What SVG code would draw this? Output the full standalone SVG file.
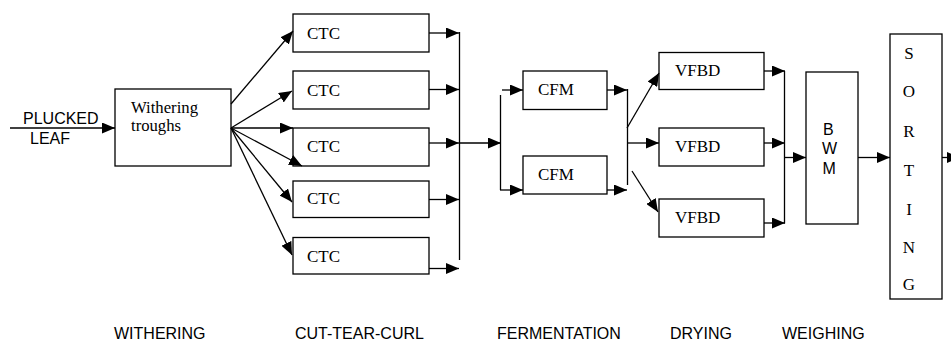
<svg xmlns="http://www.w3.org/2000/svg" width="951" height="341" viewBox="0 0 951 341">
<defs>
<marker id="ah" markerUnits="userSpaceOnUse" markerWidth="13" markerHeight="11" refX="13" refY="5.5" orient="auto">
<path d="M0,0 L13,5.5 L0,11 z" fill="#000"/>
</marker>
</defs>
<style>
.box{fill:#fff;stroke:#000;stroke-width:1.3}
.ln{fill:none;stroke:#000;stroke-width:1.3}
.ar{fill:none;stroke:#000;stroke-width:1.3;marker-end:url(#ah)}
.sf{font-family:"Liberation Serif","Times New Roman",serif;font-size:17px;fill:#000}
.sw{font-family:"Liberation Serif","Times New Roman",serif;font-size:16px;fill:#000}
.ss{font-family:"Liberation Sans",Arial,sans-serif;font-size:16px;fill:#000}
</style>
<rect width="951" height="341" fill="#fff"/>

<g id="withering">
<rect class="box" x="115" y="89" width="116" height="77"/>
<text class="sw" x="131" y="113" textLength="67" lengthAdjust="spacingAndGlyphs">Withering</text>
<text class="sw" x="131" y="131" textLength="50" lengthAdjust="spacingAndGlyphs">troughs</text>
</g>

<g id="ctc1"><rect class="box" x="293" y="14" width="136" height="38"/><text class="sf" x="307" y="39">CTC</text></g>
<g id="ctc2"><rect class="box" x="293" y="71" width="136" height="38"/><text class="sf" x="307" y="95.5">CTC</text></g>
<g id="ctc3"><rect class="box" x="293" y="128" width="136" height="38"/><text class="sf" x="307" y="152">CTC</text></g>
<g id="ctc4"><rect class="box" x="293" y="181" width="136" height="36.5"/><text class="sf" x="307" y="204">CTC</text></g>
<g id="ctc5"><rect class="box" x="293" y="237.5" width="136" height="36.5"/><text class="sf" x="307" y="261.5">CTC</text></g>

<g id="cfm1"><rect class="box" x="523" y="71" width="84" height="38.5"/><text class="sf" x="538" y="95">CFM</text></g>
<g id="cfm2"><rect class="box" x="523" y="156" width="84" height="38"/><text class="sf" x="538" y="180">CFM</text></g>

<g id="vfbd1"><rect class="box" x="659" y="52.5" width="105" height="37"/><text class="sf" x="675" y="75.5">VFBD</text></g>
<g id="vfbd2"><rect class="box" x="659" y="128" width="105" height="38"/><text class="sf" x="675" y="152">VFBD</text></g>
<g id="vfbd3"><rect class="box" x="659" y="199" width="105" height="38"/><text class="sf" x="675" y="223">VFBD</text></g>

<g id="bwm">
<rect class="box" x="806" y="72" width="52" height="152"/>
<text class="ss" x="823" y="135">B</text>
<text class="ss" x="822" y="153.5">W</text>
<text class="ss" x="822.5" y="173.5">M</text>
</g>

<g id="sorting">
<rect class="box" x="890" y="34" width="52" height="265"/>
<g class="sf" text-anchor="middle">
<text x="909" y="58.5">S</text>
<text x="909" y="97">O</text>
<text x="909" y="137">R</text>
<text x="909" y="175.5">T</text>
<text x="909" y="214.5">I</text>
<text x="909" y="253">N</text>
<text x="909" y="289.5">G</text>
</g>
</g>

<g id="input-label">
<text class="ss" x="23" y="124">PLUCKED</text>
<text class="ss" x="30" y="144">LEAF</text>
</g>

<g id="connectors">
<line class="ar" x1="10" y1="128" x2="115" y2="128"/>
<line class="ar" x1="231" y1="104" x2="293" y2="31"/>
<line class="ar" x1="231" y1="128" x2="292" y2="91"/>
<line class="ar" x1="231" y1="128" x2="293" y2="128"/>
<line class="ar" x1="231" y1="128" x2="302" y2="166"/>
<line class="ar" x1="231" y1="128" x2="292" y2="202"/>
<line class="ar" x1="231" y1="128" x2="292" y2="255"/>

<line class="ar" x1="429" y1="33" x2="459" y2="33"/>
<line class="ar" x1="429" y1="89.5" x2="459" y2="89.5"/>
<line class="ar" x1="429" y1="143" x2="459" y2="143"/>
<line class="ar" x1="429" y1="199.5" x2="459" y2="199.5"/>
<line class="ar" x1="429" y1="268.5" x2="459" y2="268.5"/>
<line class="ln" x1="459.5" y1="32" x2="459.5" y2="260"/>
<line class="ar" x1="459" y1="143" x2="501" y2="143"/>

<line class="ln" x1="500.5" y1="95" x2="500.5" y2="190"/>
<line class="ar" x1="500" y1="190" x2="523" y2="190"/>
<line class="ar" x1="502" y1="90" x2="523" y2="90"/>

<line class="ar" x1="607" y1="90" x2="627" y2="90"/>
<line class="ar" x1="607" y1="190" x2="627" y2="190"/>
<line class="ln" x1="627.5" y1="89" x2="627.5" y2="185"/>
<line class="ar" x1="627" y1="128" x2="659" y2="73"/>
<line class="ar" x1="627" y1="143" x2="659" y2="143"/>
<line class="ar" x1="632" y1="171" x2="658" y2="212"/>

<line class="ar" x1="764" y1="71" x2="785" y2="71"/>
<line class="ar" x1="764" y1="143" x2="785" y2="143"/>
<line class="ar" x1="764" y1="223" x2="785" y2="223"/>
<line class="ln" x1="784.5" y1="71" x2="784.5" y2="223.5"/>
<line class="ar" x1="784" y1="157.5" x2="806" y2="157.5"/>
<line class="ar" x1="858" y1="157.5" x2="890" y2="157.5"/>
<line class="ar" x1="942" y1="157.5" x2="960" y2="157.5"/>
</g>

<g id="stage-labels" class="ss">
<text x="114" y="339">WITHERING</text>
<text x="295" y="339">CUT-TEAR-CURL</text>
<text x="497" y="339">FERMENTATION</text>
<text x="670" y="339">DRYING</text>
<text x="782" y="339">WEIGHING</text>
</g>
</svg>
